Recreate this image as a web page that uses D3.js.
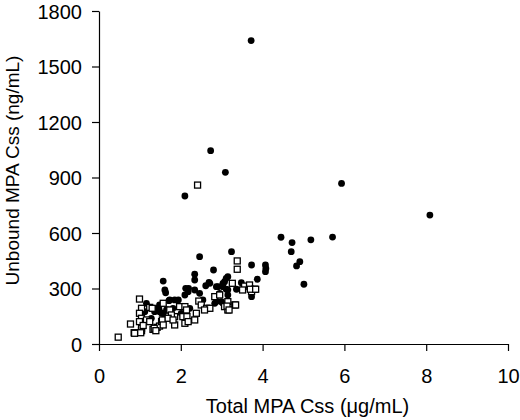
<!DOCTYPE html>
<html lang="en">
<head>
<meta charset="utf-8">
<title>Unbound vs total MPA Css</title>
<script src="https://d3js.org/d3.v7.min.js"></script>
<style>
  body { margin: 0; background: #fff; }
  text { font-family: "Liberation Sans", Arial, sans-serif; }
</style>
</head>
<body>
<script>
// filled circles: total (ug/mL) and unbound (ng/mL)
var filledTotal = [3.72, 2.73, 3.09, 2.10, 5.93, 8.09, 5.18, 5.71, 4.91, 5.01,
  4.45, 4.72, 4.70, 4.83, 3.24, 3.73, 4.07, 4.08, 4.07, 2.80,
  2.46, 3.87, 1.57, 1.61, 1.63, 2.34, 2.34, 2.34, 2.69, 2.61,
  2.12, 2.18, 2.10, 1.73, 1.85, 1.94, 3.11, 2.91, 3.03, 3.15,
  3.03, 1.69, 1.81, 2.14, 2.22, 2.01, 1.57, 1.47, 3.15, 3.07,
  3.03, 3.48, 3.36, 3.52, 3.73, 3.11, 3.15, 2.95, 2.99, 2.46,
  2.54, 2.83, 2.87, 1.71, 1.40, 1.48, 1.16, 1.12, 1.28, 1.36,
  1.44, 1.53, 1.48, 1.65, 1.61, 2.71, 2.19, 2.87];
var filledUnbound = [1640, 1045, 928, 800, 868, 697, 563, 578, 445, 323,
  577, 548, 499, 422, 499, 427, 427, 408, 391, 400,
  472, 350, 340, 292, 277, 377, 346, 292, 333, 315,
  301, 283, 265, 238, 238, 238, 355, 310, 310, 293,
  220, 184, 193, 184, 193, 166, 166, 184, 364, 337,
  328, 331, 296, 296, 256, 296, 265, 274, 229, 274,
  238, 220, 230, 234, 193, 175, 220, 175, 139, 175,
  184, 166, 211, 184, 139, 328, 301, 310];

// open squares
var openTotal = [2.41, 3.38, 3.38, 0.47, 0.77, 0.86, 1.04, 0.99, 1.04, 1.24,
  1.30, 0.99, 1.04, 0.99, 1.16, 1.57, 1.04, 1.08, 1.32, 1.42,
  1.48, 1.53, 1.24, 1.97, 2.10, 2.44, 2.50, 2.63, 2.71, 2.83,
  2.95, 3.15, 2.38, 2.05, 2.10, 1.85, 1.85, 1.55, 1.57, 3.26,
  3.56, 3.68, 3.80, 3.73, 3.07, 3.15, 3.32, 2.14, 2.15, 2.18,
  2.34, 2.58, 1.73, 1.77, 1.69, 1.81, 1.35, 0.87, 1.02, 1.39,
  3.51, 3.70, 3.83, 3.13, 3.18, 3.34];
var openUnbound = [859, 449, 404, 37, 108, 61, 72, 243, 193, 198,
  193, 166, 139, 121, 130, 220, 85, 100, 79, 90,
  97, 121, 121, 202, 202, 232, 211, 193, 193, 256,
  265, 229, 166, 148, 112, 148, 103, 130, 103, 328,
  313, 319, 296, 283, 202, 184, 211, 184, 148, 121,
  130, 184, 184, 157, 139, 130, 85, 58, 61, 72,
  292, 296, 296, 205, 184, 211];

var xTicks = [0, 2, 4, 6, 8, 10];
var yTicks = [0, 300, 600, 900, 1200, 1500, 1800];

var margin = {top: 11, right: 12, bottom: 76, left: 99},
    width = 520 - margin.left - margin.right,
    height = 420 - margin.top - margin.bottom;

var svg = d3.select("body").append("svg")
    .attr("width", 520)
    .attr("height", 420)
  .append("g")
    .attr("transform", "translate(" + margin.left + "," + margin.top + ")");

var x = d3.scaleLinear().domain([0, 10]).range([0, width]);
var y = d3.scaleLinear().domain([0, 1800]).range([height, 0]);

var xAxis = svg.append("g")
    .attr("transform", "translate(0," + height + ")")
    .call(d3.axisBottom(x).tickValues(xTicks).tickFormat(d3.format("d"))
      .tickSize(7).tickSizeOuter(0).tickPadding(18));
var yAxis = svg.append("g")
    .call(d3.axisLeft(y).tickValues(yTicks).tickFormat(d3.format("d"))
      .tickSize(7).tickSizeOuter(0).tickPadding(10));

[xAxis, yAxis].forEach(function(a) {
  a.selectAll("text")
    .style("font-family", "'Liberation Sans', Arial, sans-serif")
    .style("font-size", "20px")
    .attr("fill", "#000");
  a.selectAll("line, path").attr("stroke", "#000").attr("stroke-width", 1.2);
});
yAxis.selectAll("text").attr("dy", "0.36em");

var filled = filledTotal.map(function(v, i) { return [v, filledUnbound[i]]; });
var open = openTotal.map(function(v, i) { return [v, openUnbound[i]]; });

svg.append("g").selectAll("circle")
    .data(filled)
    .enter().append("circle")
    .attr("cx", function(d) { return x(d[0]); })
    .attr("cy", function(d) { return y(d[1]); })
    .attr("r", 3.4)
    .attr("fill", "#000");

svg.append("g").selectAll("rect")
    .data(open)
    .enter().append("rect")
    .attr("x", function(d) { return x(d[0]) - 3; })
    .attr("y", function(d) { return y(d[1]) - 3; })
    .attr("width", 6)
    .attr("height", 6)
    .attr("fill", "#fff")
    .attr("stroke", "#000")
    .attr("stroke-width", 1.3);

// axis titles
svg.append("text")
    .attr("x", width / 2 + 4)
    .attr("y", height + 69)
    .attr("text-anchor", "middle")
    .style("font-size", "20px")
    .text("Total MPA Css (\u03bcg/mL)");

svg.append("text")
    .attr("transform", "rotate(-90)")
    .attr("x", -(height / 2) + 7)
    .attr("y", -80)
    .attr("text-anchor", "middle")
    .style("font-size", "19px")
    .text("Unbound MPA Css (ng/mL)");
</script>
</body>
</html>
